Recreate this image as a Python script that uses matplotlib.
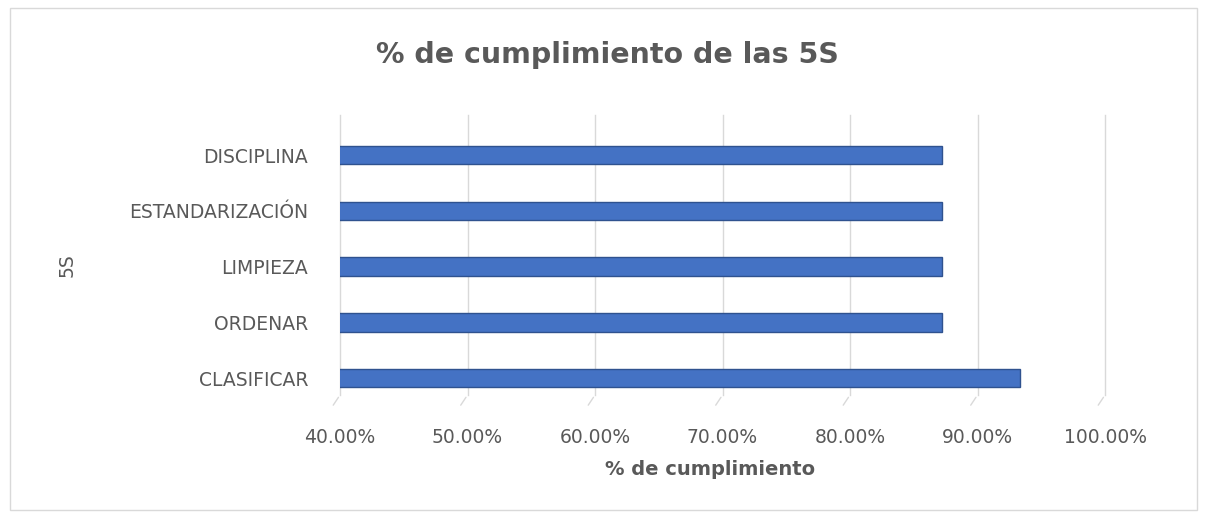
import matplotlib
matplotlib.use("Agg")
import matplotlib.pyplot as plt
from matplotlib.patches import Rectangle
from matplotlib.ticker import PercentFormatter

# data
categorias = ["CLASIFICAR", "ORDENAR", "LIMPIEZA", "ESTANDARIZACIÓN", "DISCIPLINA"]
cumplimiento = [0.933, 0.872, 0.872, 0.872, 0.872]
ticks_x = [0.4, 0.5, 0.6, 0.7, 0.8, 0.9, 1.0]

gris = "#595959"
azul = "#4472C4"

plt.rcParams['font.family'] = ['DejaVu Sans']

fig = plt.figure(figsize=(12.07, 5.17), dpi=100)
ax = fig.add_axes([0.2817, 0.236, 0.6338, 0.5416])

pos = list(range(len(categorias)))
ax.barh(pos, cumplimiento, height=0.33, color=azul, edgecolor="#2F528F",
        linewidth=1.0, zorder=3)

ax.set_xlim(0.4, 1.0)
ax.set_ylim(-0.3, 4.72)
ax.set_xticks(ticks_x)
ax.xaxis.set_major_formatter(PercentFormatter(1.0, decimals=2))
ax.set_yticks(pos)
ax.set_yticklabels(categorias)

ax.grid(axis="x", color="#D9D9D9", linewidth=1.0, zorder=0)
for gl in ax.get_xgridlines():
    gl.set_clip_on(False)
for s in ax.spines.values():
    s.set_visible(False)
ax.tick_params(axis="x", length=0, pad=24, labelsize=13.5, labelcolor=gris)
ax.tick_params(axis="y", length=0, pad=23, labelsize=13.5, labelcolor=gris)

# faint diagonal floor ticks (3D look of the original)
for t in ticks_x:
    ax.annotate("", xy=(t, 0), xycoords=("data", "axes fraction"),
                xytext=(-6, -9), textcoords="offset points",
                arrowprops=dict(arrowstyle="-", color="#D9D9D9", lw=1.0))

ax.set_xlabel("% de cumplimiento", fontsize=14, fontweight="bold", color=gris)
ax.xaxis.set_label_coords(0.484, -0.232)
ax.set_ylabel("5S", fontsize=13.5, color=gris)
ax.yaxis.set_label_coords(-0.345, 0.464)

fig.suptitle("% de cumplimiento de las 5S", x=0.503, y=0.92, fontsize=20.5,
             fontweight="bold", color=gris)

# outer chart border
fig.patches.append(Rectangle((0.008, 0.014), 0.984, 0.97, transform=fig.transFigure,
                             fill=False, edgecolor="#D9D9D9", linewidth=1.0))

fig.savefig("out.png", dpi=100)
